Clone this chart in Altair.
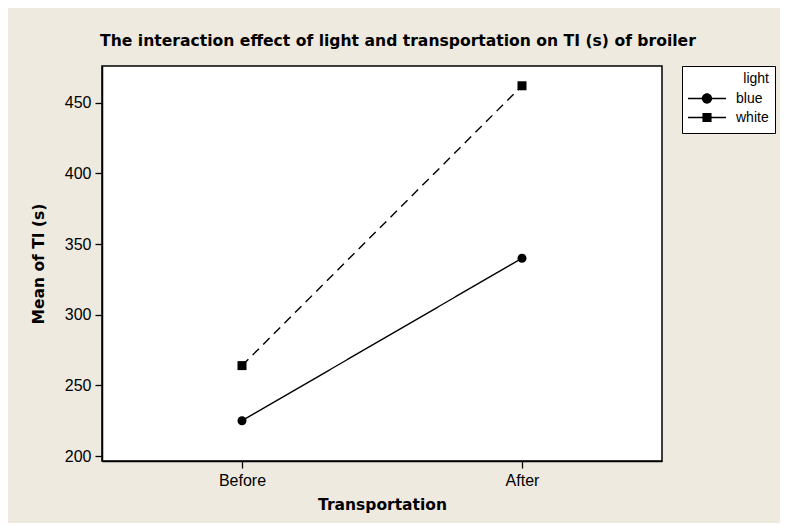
import altair as alt
import pandas as pd

transport = ["Before", "After"]
light = ["blue", "white"]
blue_means = [225, 340]
white_means = [264, 462]

rows = []
for lvl, vals in zip(light, [blue_means, white_means]):
    for t, v in zip(transport, vals):
        rows.append({"Transportation": t, "light": lvl, "Mean": v, "legend": lvl})
df = pd.DataFrame(rows)

BG = "#EEEAE0"
TICK_FONT = "Liberation Sans"
TITLE_FONT = "DejaVu Sans"

x_enc = alt.X("Transportation:N", sort=transport,
              scale=alt.Scale(type="point", padding=0.5),
              axis=alt.Axis(title="Transportation", labelAngle=0))
y_enc = alt.Y("Mean:Q", scale=alt.Scale(domain=[196.5, 476], nice=False, zero=False),
              axis=alt.Axis(title="Mean of TI (s)", values=[200, 250, 300, 350, 400, 450]))

lines = alt.Chart(df).mark_line(color="black", strokeWidth=1.4).encode(
    x=x_enc, y=y_enc,
    detail="light:N",
    strokeDash=alt.StrokeDash("light:N", scale=alt.Scale(domain=light, range=[[1, 0], [9, 6]]), legend=None),
)

points = alt.Chart(df).mark_point(filled=True, color="black", opacity=1, size=81).encode(
    x=x_enc, y=y_enc,
    shape=alt.Shape("light:N", scale=alt.Scale(domain=light, range=["circle", "square"]), legend=None),
)

circ_path = ("M-1,-0.037L1,-0.037L1,0.037L-1,0.037Z "
             "M0.27,0A0.27,0.27 0 1,1 -0.27,0A0.27,0.27 0 1,1 0.27,0Z")
sq_path = ("M-1,-0.037L1,-0.037L1,0.037L-1,0.037Z "
           "M-0.24,-0.24L0.24,-0.24L0.24,0.24L-0.24,0.24Z")

legend_layer = alt.Chart(df).transform_filter("false").mark_point(filled=True, color="black", opacity=1).encode(
    x=x_enc, y=y_enc,
    shape=alt.Shape("legend:N", scale=alt.Scale(domain=light, range=[circ_path, sq_path]),
                    legend=alt.Legend(title="light", orient="none", legendX=580, legendY=0,
                                      symbolSize=1444, clipHeight=19, rowPadding=0,
                                      labelOffset=10, symbolStrokeWidth=0,
                                      symbolFillColor="black",
                                      fillColor="white", strokeColor="black", padding=6,
                                      titleAnchor="end", titleFontWeight="normal",
                                      titleFont=TICK_FONT, titleFontSize=14, titleColor="black",
                                      labelFont=TICK_FONT, labelFontSize=14, labelColor="black",
                                      titlePadding=3)),
)

chart = alt.layer(lines, points, legend_layer).resolve_scale(shape="independent").properties(
    width=560, height=395,
    title=alt.TitleParams("The interaction effect of light and transportation on TI (s) of broiler",
                          font=TITLE_FONT, fontSize=15.6, fontWeight="bold", color="black",
                          anchor="middle", dx=16, offset=4, baseline="alphabetic"),
    autosize=alt.AutoSizeParams(type="none"),
    padding={"left": 94, "top": 58, "right": 118, "bottom": 62},
    background=BG,
).configure_view(
    stroke="black", strokeWidth=1.5, fill="white"
).configure_axis(
    grid=False, domainColor="black", domainWidth=1.5, tickColor="black", tickWidth=1.3, tickSize=7,
    labelFont=TICK_FONT, labelFontSize=16, labelColor="black", labelPadding=4,
    titleFont=TITLE_FONT, titleFontSize=15.5, titleFontWeight="bold", titleColor="black",
).configure_axisX(titlePadding=9).configure_axisY(titlePadding=18)

chart.save("out.html", embed_options={"renderer": "svg", "actions": False})
